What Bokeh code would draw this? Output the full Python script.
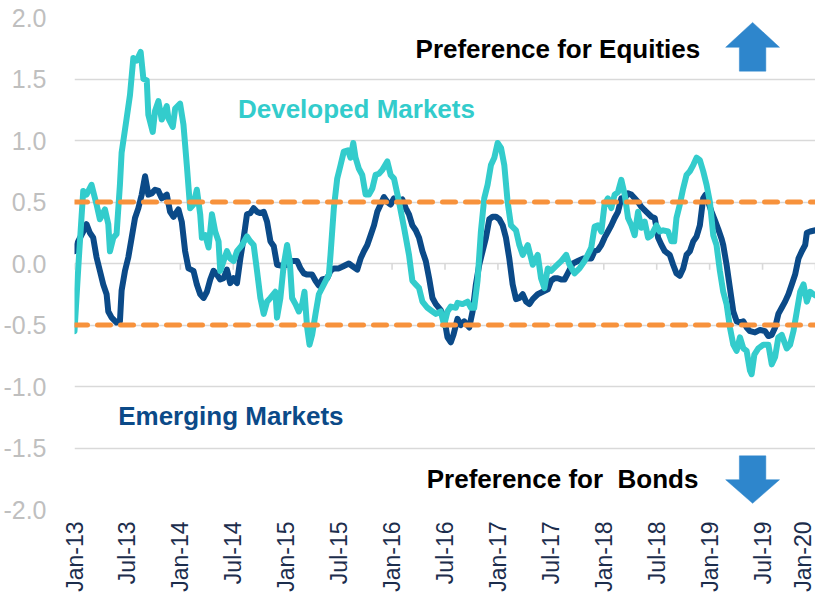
import math
from bokeh.plotting import figure
from bokeh.models import Range1d, FixedTicker, PrintfTickFormatter, Span, Label
from bokeh.embed import file_html
from bokeh.resources import INLINE

# ---- data (x = months since Jan-2013) ----
x_ticks = [0, 6, 12, 18, 24, 30, 36, 42, 48, 54, 60, 66, 72, 78, 84]
x_labels = ["Jan-13", "Jul-13", "Jan-14", "Jul-14", "Jan-15", "Jul-15", "Jan-16", "Jul-16",
            "Jan-17", "Jul-17", "Jan-18", "Jul-18", "Jan-19", "Jul-19", "Jan-20"]
y_ticks = [-2.0, -1.5, -1.0, -0.5, 0.0, 0.5, 1.0, 1.5, 2.0]
bands = [0.5, -0.5]

dm_x = [0.00, 0.50, 0.99, 1.36, 1.93, 2.50, 2.88, 3.45, 3.83, 4.02, 4.40, 4.77, 5.15, 5.34, 5.91,
        6.29, 6.67, 7.05, 7.50, 7.81, 8.19, 8.37, 8.87, 9.13, 9.51, 9.89, 10.46, 10.65, 11.14,
        11.41, 11.97, 12.35, 12.73, 13.11, 13.49, 13.87, 14.25, 14.44, 14.82, 15.20, 15.58,
        15.95, 16.33, 16.52, 16.90, 17.28, 17.66, 18.04, 18.42, 18.99, 19.55, 19.93, 20.31,
        20.69, 21.07, 21.45, 21.83, 22.21, 22.77, 22.96, 23.34, 23.72, 24.10, 24.40, 24.67,
        25.05, 25.43, 25.81, 26.07, 26.37, 26.64, 26.94, 27.32, 27.70, 28.27, 28.84, 29.02,
        29.40, 29.78, 30.16, 30.53, 30.99, 31.29, 31.60, 31.86, 32.24, 32.62, 33.00, 33.38,
        33.76, 34.13, 34.51, 34.89, 35.46, 35.84, 36.22, 36.79, 37.36, 37.92, 38.30, 38.68,
        39.06, 39.44, 40.01, 40.58, 40.96, 41.52, 41.90, 42.28, 42.66, 43.23, 43.42, 43.99,
        44.56, 44.94, 45.31, 45.69, 46.07, 46.45, 46.83, 47.21, 47.59, 47.97, 48.35, 48.72,
        49.10, 49.48, 50.05, 50.43, 50.81, 51.38, 51.95, 52.51, 52.89, 53.27, 53.65, 54.03,
        54.60, 55.17, 55.74, 56.11, 56.68, 57.25, 57.82, 58.39, 58.58, 58.96, 59.34, 59.72,
        60.09, 60.47, 60.85, 61.23, 61.61, 61.99, 62.37, 62.75, 63.13, 63.50, 63.88, 64.26,
        64.64, 65.02, 65.40, 65.97, 66.35, 66.73, 67.29, 67.67, 67.98, 68.24, 68.62, 69.00,
        69.38, 69.76, 70.14, 70.52, 70.89, 71.27, 71.65, 72.03, 72.41, 72.78, 73.16, 73.54,
        73.92, 74.30, 74.68, 75.06, 75.44, 75.82, 76.19, 76.57, 76.76, 77.07, 77.52, 78.09,
        78.66, 79.04, 79.42, 79.79, 80.17, 80.74, 81.12, 81.50, 81.88, 82.26, 82.64, 83.02,
        83.39, 83.77, 84.00]
dm_y = [-0.55, 0.05, 0.59, 0.56, 0.64, 0.48, 0.36, 0.44, 0.32, 0.10, 0.21, 0.24, 0.64, 0.90, 1.18,
        1.37, 1.67, 1.65, 1.72, 1.50, 1.49, 1.21, 1.07, 1.24, 1.32, 1.17, 1.28, 1.18, 1.11,
        1.26, 1.30, 1.13, 0.80, 0.45, 0.48, 0.60, 0.40, 0.21, 0.23, 0.13, 0.40,
        0.26, 0.18, -0.06, 0.02, 0.10, 0.04, 0.02, 0.10, 0.15, 0.22, 0.18, 0.15,
        -0.06, -0.28, -0.41, -0.31, -0.28, -0.23, -0.44, -0.28, -0.01, 0.15, 0.02, -0.28,
        -0.33, -0.39, -0.33, -0.23, -0.52, -0.66, -0.58, -0.41, -0.25, -0.17, -0.09, 0.07,
        0.45, 0.69, 0.80, 0.91, 0.92, 0.86, 0.98, 0.86, 0.77, 0.72, 0.56, 0.56,
        0.61, 0.72, 0.73, 0.76, 0.83, 0.72, 0.69, 0.50, 0.29, 0.07, -0.14, -0.17,
        -0.20, -0.31, -0.36, -0.39, -0.41, -0.39, -0.50, -0.39, -0.35, -0.36, -0.32, -0.33,
        -0.31, -0.36, -0.36, -0.14, 0.26, 0.53, 0.64, 0.80, 0.86, 0.98, 0.94, 0.80,
        0.50, 0.31, 0.27, 0.15, 0.07, 0.15, -0.01, 0.07, -0.12, -0.20, -0.04, -0.06,
        -0.02, 0.02, 0.07, -0.01, -0.08, -0.04, 0.02, 0.10, 0.13, 0.30, 0.31, 0.26,
        0.48, 0.53, 0.45, 0.56, 0.58, 0.68, 0.56, 0.37, 0.31, 0.23, 0.42, 0.29,
        0.34, 0.21, 0.23, 0.31, 0.26, 0.27, 0.26, 0.18, 0.18, 0.37, 0.48, 0.61,
        0.72, 0.75, 0.80, 0.86, 0.84, 0.75, 0.64, 0.50, 0.23, 0.15, -0.06, -0.23,
        -0.33, -0.52, -0.66, -0.71, -0.60, -0.69, -0.71, -0.87, -0.90, -0.74, -0.69, -0.66,
        -0.66, -0.82, -0.76, -0.60, -0.58, -0.69, -0.66, -0.55, -0.39, -0.23, -0.17, -0.31,
        -0.23, -0.25, -0.26]

em_x = [0.00, 0.42, 0.99, 1.36, 1.74, 2.12, 2.50, 2.88, 3.26, 3.64, 3.83, 4.21, 4.77, 5.15, 5.34,
        5.72, 6.10, 6.48, 6.86, 7.24, 7.62, 8.00, 8.37, 8.75, 9.13, 9.51, 9.89, 10.46, 10.84,
        11.22, 11.78, 12.16, 12.54, 12.92, 13.49, 13.87, 14.25, 14.63, 15.01, 15.39, 15.76,
        16.14, 16.52, 16.90, 17.28, 17.66, 18.04, 18.42, 18.80, 19.18, 19.55, 19.93, 20.31,
        20.69, 21.07, 21.45, 21.83, 22.21, 22.59, 22.96, 23.53, 24.10, 24.67, 25.24, 25.62,
        26.00, 26.37, 26.94, 27.32, 27.70, 28.08, 28.65, 29.02, 29.40, 29.97, 30.53, 31.10,
        31.48, 32.05, 32.43, 32.81, 33.19, 33.57, 33.95, 34.32, 34.70, 35.08, 35.46, 35.84,
        36.22, 36.79, 37.17, 37.55, 37.92, 38.30, 38.68, 39.06, 39.44, 39.82, 40.20, 40.58,
        40.96, 41.52, 41.90, 42.28, 42.66, 42.96, 43.42, 43.80, 44.18, 44.75, 45.13, 45.50,
        45.88, 46.26, 46.64, 47.02, 47.40, 47.78, 48.16, 48.54, 48.91, 49.29, 49.67, 50.05,
        50.43, 50.81, 51.19, 51.57, 51.95, 52.51, 53.08, 53.65, 54.03, 54.41, 54.79, 55.17,
        55.55, 55.92, 56.49, 57.06, 57.63, 58.20, 58.58, 58.96, 59.34, 59.72, 60.09, 60.47,
        60.85, 61.23, 61.61, 61.99, 62.37, 62.75, 63.13, 63.50, 63.88, 64.26, 64.83, 65.40,
        65.78, 66.16, 66.54, 66.92, 67.48, 67.86, 68.24, 68.62, 69.00, 69.38, 69.76, 70.14,
        70.52, 70.89, 71.27, 71.54, 71.84, 72.22, 72.60, 72.97, 73.36, 73.54, 73.92, 74.30,
        74.68, 75.06, 75.44, 75.82, 76.19, 76.57, 77.14, 77.71, 78.28, 78.66, 79.04, 79.42,
        79.79, 80.17, 80.55, 80.93, 81.31, 81.69, 82.07, 82.45, 82.83, 83.02, 83.39, 84.00]
em_y = [0.10, 0.18, 0.26, 0.32, 0.25, 0.21, 0.05, -0.06, -0.17, -0.25, -0.39, -0.44, -0.48, -0.47, -0.22,
        -0.06, 0.05, 0.21, 0.37, 0.45, 0.56, 0.71, 0.56, 0.57, 0.60, 0.59, 0.53, 0.56, 0.42,
        0.38, 0.44, 0.34, 0.10, -0.04, -0.06, -0.17, -0.25, -0.28, -0.23, -0.13, -0.06,
        -0.09, -0.13, -0.12, -0.05, -0.16, -0.12, -0.16, 0.04, 0.21, 0.40, 0.41, 0.45,
        0.42, 0.41, 0.42, 0.34, 0.18, 0.14, -0.01, -0.02, -0.01, 0.02, 0.02, -0.04,
        -0.08, -0.09, -0.09, -0.14, -0.18, -0.13, -0.12, -0.06, -0.04, -0.04, -0.02, 0.00,
        -0.02, -0.05, 0.04, 0.10, 0.15, 0.23, 0.31, 0.42, 0.48, 0.54, 0.50, 0.48,
        0.53, 0.50, 0.52, 0.45, 0.40, 0.31, 0.27, 0.21, 0.10, 0.02, -0.12, -0.28,
        -0.33, -0.38, -0.44, -0.60, -0.64, -0.58, -0.45, -0.50, -0.47, -0.52, -0.39, -0.17,
        -0.01, 0.10, 0.21, 0.36, 0.38, 0.38, 0.36, 0.31, 0.21, 0.04, -0.17, -0.29,
        -0.28, -0.25, -0.31, -0.33, -0.29, -0.25, -0.23, -0.21, -0.14, -0.12, -0.12, -0.13,
        -0.13, -0.08, 0.00, 0.02, 0.04, 0.04, 0.04, 0.10, 0.11, 0.15, 0.21, 0.26,
        0.31, 0.37, 0.42, 0.53, 0.53, 0.57, 0.56, 0.53, 0.50, 0.46, 0.42, 0.38,
        0.37, 0.21, 0.15, 0.10, 0.07, -0.01, -0.08, -0.10, -0.04, 0.07, 0.10, 0.18,
        0.22, 0.31, 0.53, 0.56, 0.50, 0.42, 0.35, 0.28, 0.20, 0.15, -0.01, -0.20,
        -0.39, -0.47, -0.48, -0.47, -0.52, -0.55, -0.56, -0.54, -0.55, -0.59, -0.58, -0.52,
        -0.41, -0.36, -0.31, -0.25, -0.17, -0.09, 0.04, 0.10, 0.15, 0.25, 0.26, 0.27]

# ---- style ----
FONT = "Liberation Sans"
DM_COLOR = "#33CCCC"
EM_COLOR = "#0B4A88"
BAND_COLOR = "#F7923C"
ARROW_COLOR = "#2E86CC"
GRID_COLOR = "#D9D9D9"

p = figure(width=815, height=594, output_backend="svg", toolbar_location=None,
           x_range=Range1d(0, 84), y_range=Range1d(-2, 2),
           min_border_left=70, min_border_right=0, min_border_top=17, min_border_bottom=82)
p.outline_line_color = None
p.background_fill_color = "white"
p.border_fill_color = "white"

p.xgrid.visible = False
p.ygrid.ticker = FixedTicker(ticks=y_ticks)
p.ygrid.grid_line_color = GRID_COLOR
p.ygrid.grid_line_width = 1.6

p.yaxis.ticker = FixedTicker(ticks=y_ticks)
p.yaxis.formatter = PrintfTickFormatter(format="%.1f")
p.yaxis.axis_line_color = None
p.yaxis.major_tick_line_color = None
p.yaxis.minor_tick_line_color = None
p.yaxis.major_label_text_font = FONT
p.yaxis.major_label_text_font_size = "25px"
p.yaxis.major_label_text_color = "#BFBFBF"
p.yaxis.major_label_standoff = 22

p.xaxis.ticker = FixedTicker(ticks=x_ticks)
p.xaxis.major_label_overrides = {t: lab for t, lab in zip(x_ticks, x_labels)}
p.xaxis.major_label_orientation = math.pi / 2
p.xaxis.axis_line_color = None
p.xaxis.major_tick_line_color = None
p.xaxis.minor_tick_line_color = None
p.xaxis.major_tick_in = 0
p.xaxis.major_tick_out = 0
p.xaxis.major_label_text_font = FONT
p.xaxis.major_label_text_font_size = "23px"
p.xaxis.major_label_text_color = "#1C2D4C"
p.xaxis.major_label_standoff = 12

# zero line tick marks
p.segment(x0=x_ticks, y0=[0] * len(x_ticks), x1=x_ticks, y1=[-0.05] * len(x_ticks),
          line_color=GRID_COLOR, line_width=1.6)

# series
p.line(em_x, em_y, line_color=EM_COLOR, line_width=6, line_join="round", line_cap="round")
p.line(dm_x, dm_y, line_color=DM_COLOR, line_width=6, line_join="round", line_cap="round")

# +/- 0.5 bands
for b in bands:
    p.add_layout(Span(location=b, dimension="width", line_color=BAND_COLOR, line_width=5,
                      line_dash="13 10", line_cap="round"))

# labels
def lab(x, y, text, color):
    p.add_layout(Label(x=x, y=y, text=text, text_font=FONT, text_font_size="26px",
                       text_font_style="bold", text_color=color, text_baseline="middle",
                       text_align="left"))

lab(38.66, 1.741, "Preference for Equities", "black")
lab(39.93, -1.754, "Preference for \u00a0Bonds", "black")
lab(18.53, 1.253, "Developed Markets", DM_COLOR)
lab(4.95, -1.240, "Emerging Markets", EM_COLOR)

# arrows
ax, hw, sw = 76.87, 3.05, 1.50
up_tip, up_base, up_end = 1.960, 1.758, 1.564
p.patch([ax, ax + hw, ax + sw, ax + sw, ax - sw, ax - sw, ax - hw],
        [up_tip, up_base, up_base, up_end, up_end, up_base, up_base],
        fill_color=ARROW_COLOR, line_color=ARROW_COLOR, line_width=0.5)
p.patch([ax, ax + hw, ax + sw, ax + sw, ax - sw, ax - sw, ax - hw],
        [-up_tip + 0.01, -up_base, -up_base, -up_end, -up_end, -up_base, -up_base],
        fill_color=ARROW_COLOR, line_color=ARROW_COLOR, line_width=0.5)

open("out.html", "w").write(file_html(p, INLINE))
